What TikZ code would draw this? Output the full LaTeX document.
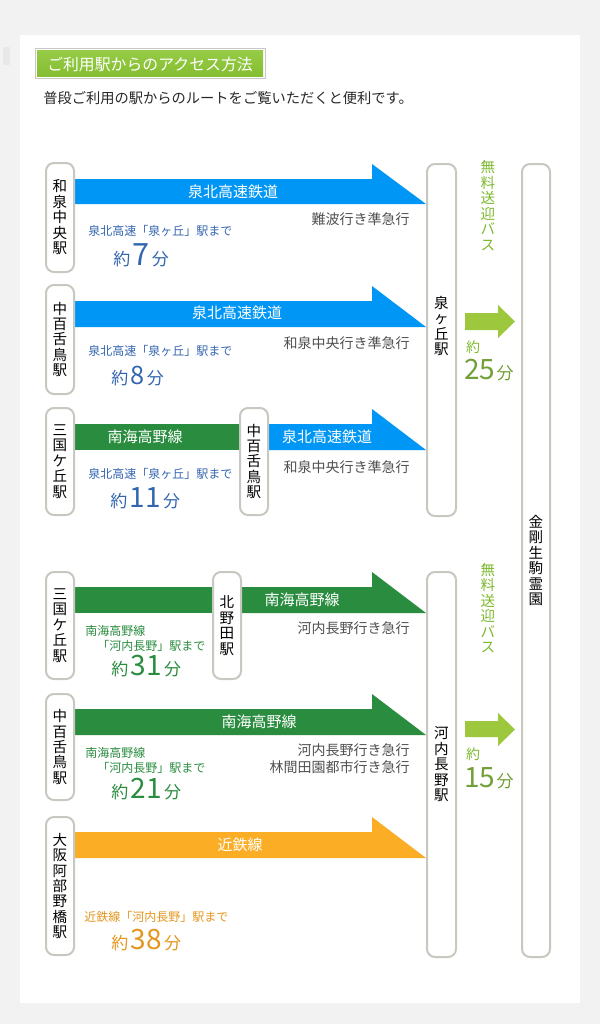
\documentclass[tikz,border=0pt]{standalone}
\usepackage{fontspec}
\setmainfont{Noto Sans CJK JP}
\pgfdeclarelayer{bg}
\pgfsetlayers{bg,main}
\definecolor{pagebg}{RGB}{242,242,242}
\definecolor{markgray}{RGB}{232,232,232}
\definecolor{boxgray}{RGB}{200,200,192}
\definecolor{sbblue}{RGB}{0,150,245}
\definecolor{sbtext}{RGB}{51,102,176}
\definecolor{nkgreen}{RGB}{41,140,62}
\definecolor{kinorange}{RGB}{251,173,38}
\definecolor{kintext}{RGB}{228,150,30}
\definecolor{busarrow}{RGB}{157,200,62}
\definecolor{bustext}{RGB}{125,185,45}
\definecolor{bustime}{RGB}{115,160,55}
\definecolor{graytext}{RGB}{80,80,80}
\definecolor{darktext}{RGB}{40,40,40}
\definecolor{hdrtop}{RGB}{150,203,70}
\definecolor{hdrbot}{RGB}{132,190,48}
\definecolor{hdrborder}{RGB}{200,200,200}
\newcommand\jtime[2]{\fontsize{12.75}{14}\selectfont 約\hspace{2pt}\fontsize{#2}{24}\selectfont #1\hspace{1.5pt}\fontsize{12.75}{14}\selectfont 分}
\begin{document}
\begin{tikzpicture}[x=0.75pt,y=-0.75pt,
  stbox/.style={draw=boxgray, line width=1.5pt, fill=white, rounded corners=6pt,
    inner sep=0pt, minimum width={28*0.75pt}, align=center,
    font=\fontsize{10.9}{11.6}\selectfont, text=black},
  vtext/.style={inner sep=0pt, align=center, font=\fontsize{10.9}{11.6}\selectfont},
  barlabel/.style={inner sep=0pt, text=white, font=\fontsize{11.25}{13}\selectfont},
  dirtext/.style={inner sep=0pt, anchor=east, text=graytext, font=\fontsize{10.5}{12}\selectfont},
  totext/.style={inner sep=0pt, anchor=west, font=\fontsize{9}{11}\selectfont},
  timetext/.style={inner sep=0pt, anchor=base west},
]
\useasboundingbox (0,0) rectangle (600,1024);

% station boxes
\node[stbox, minimum height={109*0.75pt}] (s1) at (60,217.5) {和\\泉\\中\\央\\駅};
\node[stbox, minimum height={109*0.75pt}] (s2) at (60,339.5) {中\\百\\舌\\鳥\\駅};
\node[stbox, minimum height={107*0.75pt}] (s3) at (60,461.5) {三\\国\\ケ\\丘\\駅};
\node[stbox, minimum height={107*0.75pt}] (m3) at (254,461.5) {中\\百\\舌\\鳥\\駅};
\node[stbox, minimum height={107*0.75pt}] (s4) at (60,625.5) {三\\国\\ケ\\丘\\駅};
\node[stbox, minimum height={107*0.75pt}] (m4) at (227,625.5) {北\\野\\田\\駅};
\node[stbox, minimum height={106*0.75pt}] (s5) at (60,747) {中\\百\\舌\\鳥\\駅};
\node[stbox, minimum height={138*0.75pt}] (s6) at (60,886) {大\\阪\\阿\\部\\野\\橋\\駅};
\node[stbox, minimum width={29*0.75pt}, minimum height={352*0.75pt}] (izumi) at (441.5,340) {};
\node[vtext, text=black] (izumitxt) at (441.5,326) {泉\\ヶ\\丘\\駅};
\node[stbox, minimum width={29*0.75pt}, minimum height={385*0.75pt}] (kawachi) at (441.5,764.5) {河\\内\\長\\野\\駅};
\node[stbox, minimum height={793*0.75pt}] (kongo) at (536,560.5) {金\\剛\\生\\駒\\霊\\園};

\begin{pgfonlayer}{bg}
\fill[pagebg] (0,0) rectangle (600,1024);
\fill[markgray] (3,47) rectangle (10,65);
\fill[white] (20,35) rectangle (580,1003);
% row 1
\fill[sbblue] (s1.east |- 0,179) -- (372,179) -- (372,164) -- (izumi.west |- 0,204) -- (s1.east |- 0,204) -- cycle;
% row 2
\fill[sbblue] (s2.east |- 0,301) -- (372,301) -- (372,286) -- (izumi.west |- 0,327) -- (s2.east |- 0,327) -- cycle;
% row 3
\fill[nkgreen] (s3.east |- 0,424) rectangle (m3.west |- 0,450);
\fill[sbblue] (m3.east |- 0,424) -- (372,424) -- (372,409) -- (izumi.west |- 0,450) -- (m3.east |- 0,450) -- cycle;
% row 4
\fill[nkgreen] (s4.east |- 0,587) rectangle (m4.west |- 0,613);
\fill[nkgreen] (m4.east |- 0,587) -- (372,587) -- (372,572) -- (kawachi.west |- 0,613) -- (m4.east |- 0,613) -- cycle;
% row 5
\fill[nkgreen] (s5.east |- 0,709) -- (372,709) -- (372,694) -- (kawachi.west |- 0,735) -- (s5.east |- 0,735) -- cycle;
% row 6
\fill[kinorange] (s6.east |- 0,832) -- (372,832) -- (372,817) -- (kawachi.west |- 0,858) -- (s6.east |- 0,858) -- cycle;
% bus arrows
\fill[busarrow] (465,313) -- (498,313) -- (498,305) -- (515,321.5) -- (498,338) -- (498,330) -- (465,330) -- cycle;
\fill[busarrow] (465,721) -- (498,721) -- (498,713) -- (515,729.5) -- (498,746) -- (498,737) -- (465,737) -- cycle;
\end{pgfonlayer}

% header
\node[draw=hdrborder, line width=0.75pt, fill=white, inner sep=0pt,
  minimum width={230*0.75pt}, minimum height={30*0.75pt}] (hdr) at (150,64) {};
\node[top color=hdrtop, bottom color=hdrbot, inner sep=0pt,
  minimum width={226*0.75pt}, minimum height={26*0.75pt}, text=white,
  font=\fontsize{11.9}{13}\selectfont] (hdrin) at (150,64) {ご利用駅からのアクセス方法};
\node[inner sep=0pt, anchor=west, text=darktext, font=\fontsize{10.7}{12}\selectfont] (sub) at (43,98)
  {普段ご利用の駅からのルートをご覧いただくと便利です。};

% bar labels
\node[barlabel] (l1) at (233,192) {泉北高速鉄道};
\node[barlabel] (l2) at (237,313) {泉北高速鉄道};
\node[barlabel] (l3a) at (145,437) {南海高野線};
\node[barlabel] (l3b) at (327,437) {泉北高速鉄道};
\node[barlabel] (l4) at (302,600) {南海高野線};
\node[barlabel] (l5) at (259,722) {南海高野線};
\node[barlabel] (l6) at (240,845) {近鉄線};

% direction texts
\node[dirtext] (d1) at (410,219) {難波行き準急行};
\node[dirtext] (d2) at (410,343) {和泉中央行き準急行};
\node[dirtext] (d3) at (410,467) {和泉中央行き準急行};
\node[dirtext] (d4) at (410,628) {河内長野行き急行};
\node[dirtext] (d5a) at (410,750) {河内長野行き急行};
\node[dirtext] (d5b) at (410,767) {林間田園都市行き急行};

% destination texts
\node[totext, text=sbtext] (t1) at (88,231) {泉北高速「泉ヶ丘」駅まで};
\node[totext, text=sbtext] (t2) at (88,351) {泉北高速「泉ヶ丘」駅まで};
\node[totext, text=sbtext] (t3) at (88,474) {泉北高速「泉ヶ丘」駅まで};
\node[totext, text=nkgreen] (t4a) at (85,631) {南海高野線};
\node[totext, text=nkgreen] (t4b) at (97,646) {「河内長野」駅まで};
\node[totext, text=nkgreen] (t5a) at (85,753) {南海高野線};
\node[totext, text=nkgreen] (t5b) at (97,768) {「河内長野」駅まで};
\node[totext, text=kintext] (t6) at (84,917) {近鉄線「河内長野」駅まで};

% times
\node[timetext, text=sbtext] (tm1) at (113,265) {\jtime{7}{23}};
\node[timetext, text=sbtext] (tm2) at (111,384) {\jtime{8}{19}};
\node[timetext, text=sbtext] (tm3) at (110,507) {\jtime{11}{21}};
\node[timetext, text=nkgreen] (tm4) at (111,675) {\jtime{31}{21}};
\node[timetext, text=nkgreen] (tm5) at (111,798) {\jtime{21}{21}};
\node[timetext, text=kintext] (tm6) at (111,949) {\jtime{38}{21}};

% bus texts
\node[vtext, text=bustext] (bus1) at (488,205.5) {無\\料\\送\\迎\\バ\\ス};
\node[vtext, text=bustext] (bus2) at (488,608) {無\\料\\送\\迎\\バ\\ス};
\node[inner sep=0pt, text=bustext, font=\fontsize{10.5}{12}\selectfont] (by1) at (473,347) {約};
\node[inner sep=0pt, anchor=base west, text=bustime] (bt1) at (464,379)
  {\fontsize{21}{24}\selectfont 25\hspace{1pt}\fontsize{12.75}{14}\selectfont 分};
\node[inner sep=0pt, text=bustext, font=\fontsize{10.5}{12}\selectfont] (by2) at (473,754) {約};
\node[inner sep=0pt, anchor=base west, text=bustime] (bt2) at (464,787)
  {\fontsize{21}{24}\selectfont 15\hspace{1pt}\fontsize{12.75}{14}\selectfont 分};
\end{tikzpicture}
\end{document}
